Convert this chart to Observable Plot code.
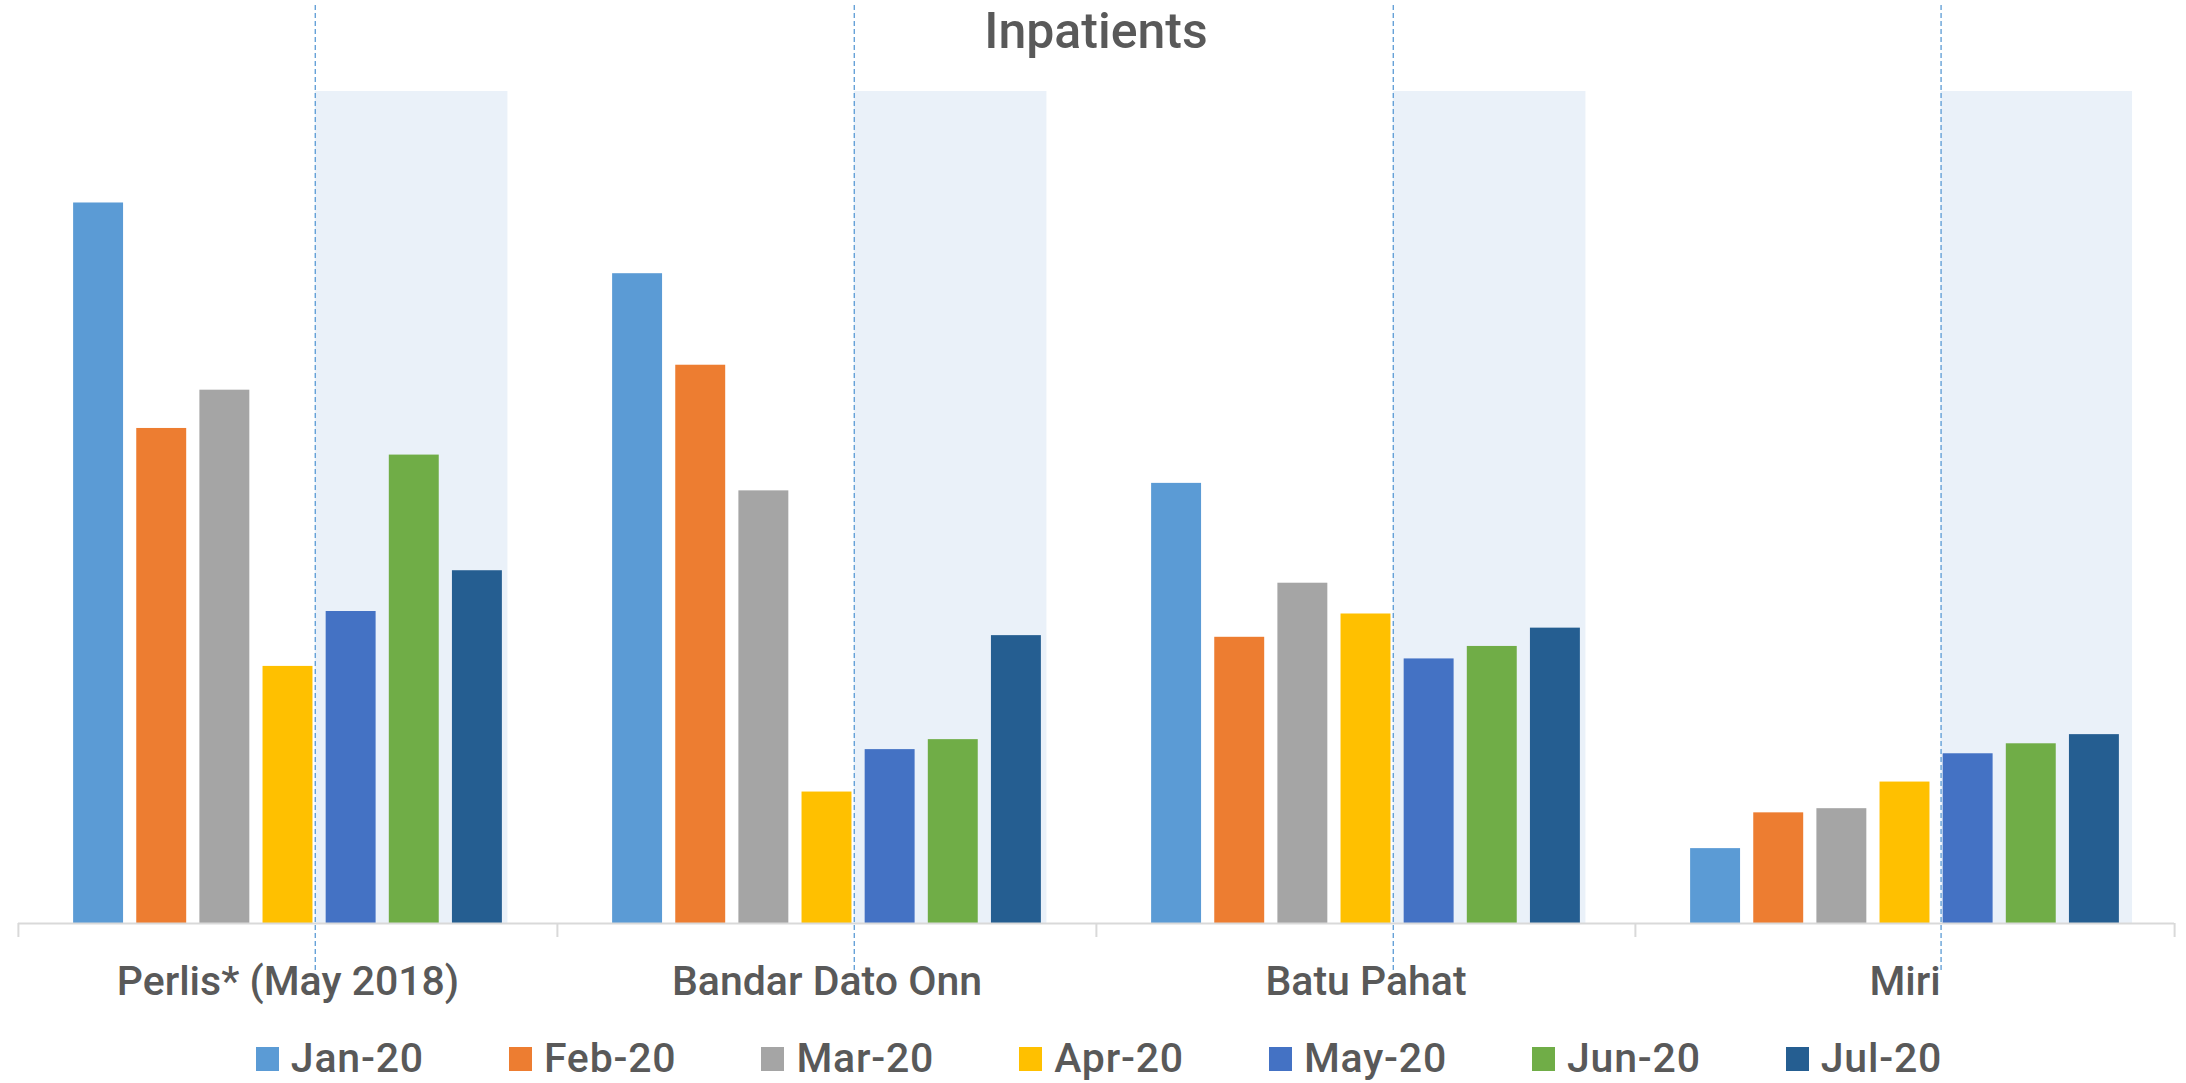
<!DOCTYPE html>
<html>
<head>
<meta charset="utf-8">
<script src="https://cdn.jsdelivr.net/npm/d3@7"></script>
<script src="https://cdn.jsdelivr.net/npm/@observablehq/plot@0.6"></script>
<style>
  html, body { margin: 0; padding: 0; background: #fff; }
  #wrap { position: relative; width: 2186px; height: 1083px; overflow: hidden; font-family: Roboto, sans-serif; }
  #title { position: absolute; left: 0; top: 6px; width: 2186px; text-align: center; font-size: 50px; font-weight: 500; line-height: 51px; color: #595959; padding-left: 6px; box-sizing: border-box; }
  #chart { position: absolute; left: 0; top: 0; }
  #legend { position: absolute; left: 0; top: 1038px; width: 2186px; height: 41px; display: flex; justify-content: center; align-items: center; gap: 85px; padding-left: 12px; box-sizing: border-box; }
  .item { display: flex; align-items: center; font-size: 41px; font-weight: 500; letter-spacing: 0.8px; line-height: 41px; color: #595959; }
  .sw { width: 23px; height: 24px; margin-right: 12px; }
</style>
</head>
<body>
<div id="wrap">
  <div id="chart"></div>
  <div id="title">Inpatients</div>
  <div id="legend"></div>
</div>
<script>
// ---- data ----
const sites = ["Perlis* (May 2018)", "Bandar Dato Onn", "Batu Pahat", "Miri"];
const months = ["Jan-20", "Feb-20", "Mar-20", "Apr-20", "May-20", "Jun-20", "Jul-20"];
const colors = ["#5B9BD5", "#ED7D31", "#A5A5A5", "#FFC000", "#4472C4", "#70AD47", "#255E91"];
const perlis = [86.6, 59.5, 64.1, 30.9, 37.5, 56.3, 42.4];
const bandarDatoOnn = [78.1, 67.1, 52.0, 15.8, 20.9, 22.1, 34.6];
const batuPahat = [52.9, 34.4, 40.9, 37.2, 31.8, 33.3, 35.5];
const miri = [9.0, 13.3, 13.8, 17.0, 20.4, 21.6, 22.7];
const shadedMonths = ["May-20", "Jun-20", "Jul-20"];
const shadeTop = 100;

const seriesBySite = [perlis, bandarDatoOnn, batuPahat, miri];
const rows = sites.flatMap((s, i) => months.map((m, j) => ({site: s, month: m, value: seriesBySite[i][j]})));
const midShade = shadedMonths[1];
const shade = sites.map(s => ({site: s, month: midShade, top: shadeTop}));
const shadeMain = shade.filter(d => d.site !== "Miri");
const shadeMiri = shade.filter(d => d.site === "Miri");
const leftTicks = sites.map(s => ({site: s, month: months[0]}));
const rightTick = [{site: sites[sites.length - 1], month: months[months.length - 1]}];

const grey = "#D9D9D9";
const dash = "#5B9BD5";

const chart = Plot.plot({
  width: 2186,
  height: 1010,
  marginTop: 91,
  marginBottom: 87,
  marginLeft: 17,
  marginRight: 11,
  style: {fontFamily: "Roboto", fontWeight: 500, background: "transparent", color: "#595959"},
  fx: {domain: sites, padding: 0, label: null, axis: null},
  x: {domain: months, paddingInner: 0.209, paddingOuter: 0.873, axis: null, round: false},
  y: {domain: [0, 100], axis: null},
  color: {domain: months, range: colors},
  marks: [
    Plot.barY(shadeMain, {fx: "site", x: "month", y: "top", fill: "#EAF1F9", insetLeft: -74, insetRight: -68.7}),
    Plot.barY(shadeMiri, {fx: "site", x: "month", y: "top", fill: "#EAF1F9", insetLeft: -65.3, insetRight: -76.3}),
    Plot.barY(rows, {fx: "site", x: "month", y: "value", fill: "month"}),
    Plot.ruleY([0], {stroke: grey, strokeWidth: 2}),
    Plot.ruleX(leftTicks, {fx: "site", x: "month", dx: -80.2, stroke: grey, strokeWidth: 2, insetTop: 832, insetBottom: -14}),
    Plot.ruleX(rightTick, {fx: "site", x: "month", dx: 80.2, stroke: grey, strokeWidth: 2, insetTop: 832, insetBottom: -14}),
    Plot.ruleX(shadeMain, {fx: "site", x: "month", dx: -99, stroke: dash, strokeWidth: 1.3, strokeDasharray: "5,3", insetTop: -86, insetBottom: -47}),
    Plot.ruleX(shadeMiri, {fx: "site", x: "month", dx: -90.2, stroke: dash, strokeWidth: 1.3, strokeDasharray: "5,3", insetTop: -86, insetBottom: -47}),
    Plot.axisFx({anchor: "bottom", tickSize: 0, tickPadding: 42, fontSize: 41, fontWeight: 500, fill: "#595959", label: null})
  ]
});
document.getElementById("chart").appendChild(chart);

const legend = document.getElementById("legend");
months.forEach((m, i) => {
  const item = document.createElement("div");
  item.className = "item";
  const sw = document.createElement("div");
  sw.className = "sw";
  sw.style.background = colors[i];
  const t = document.createElement("span");
  t.textContent = m;
  item.appendChild(sw);
  item.appendChild(t);
  legend.appendChild(item);
});
</script>
</body>
</html>
